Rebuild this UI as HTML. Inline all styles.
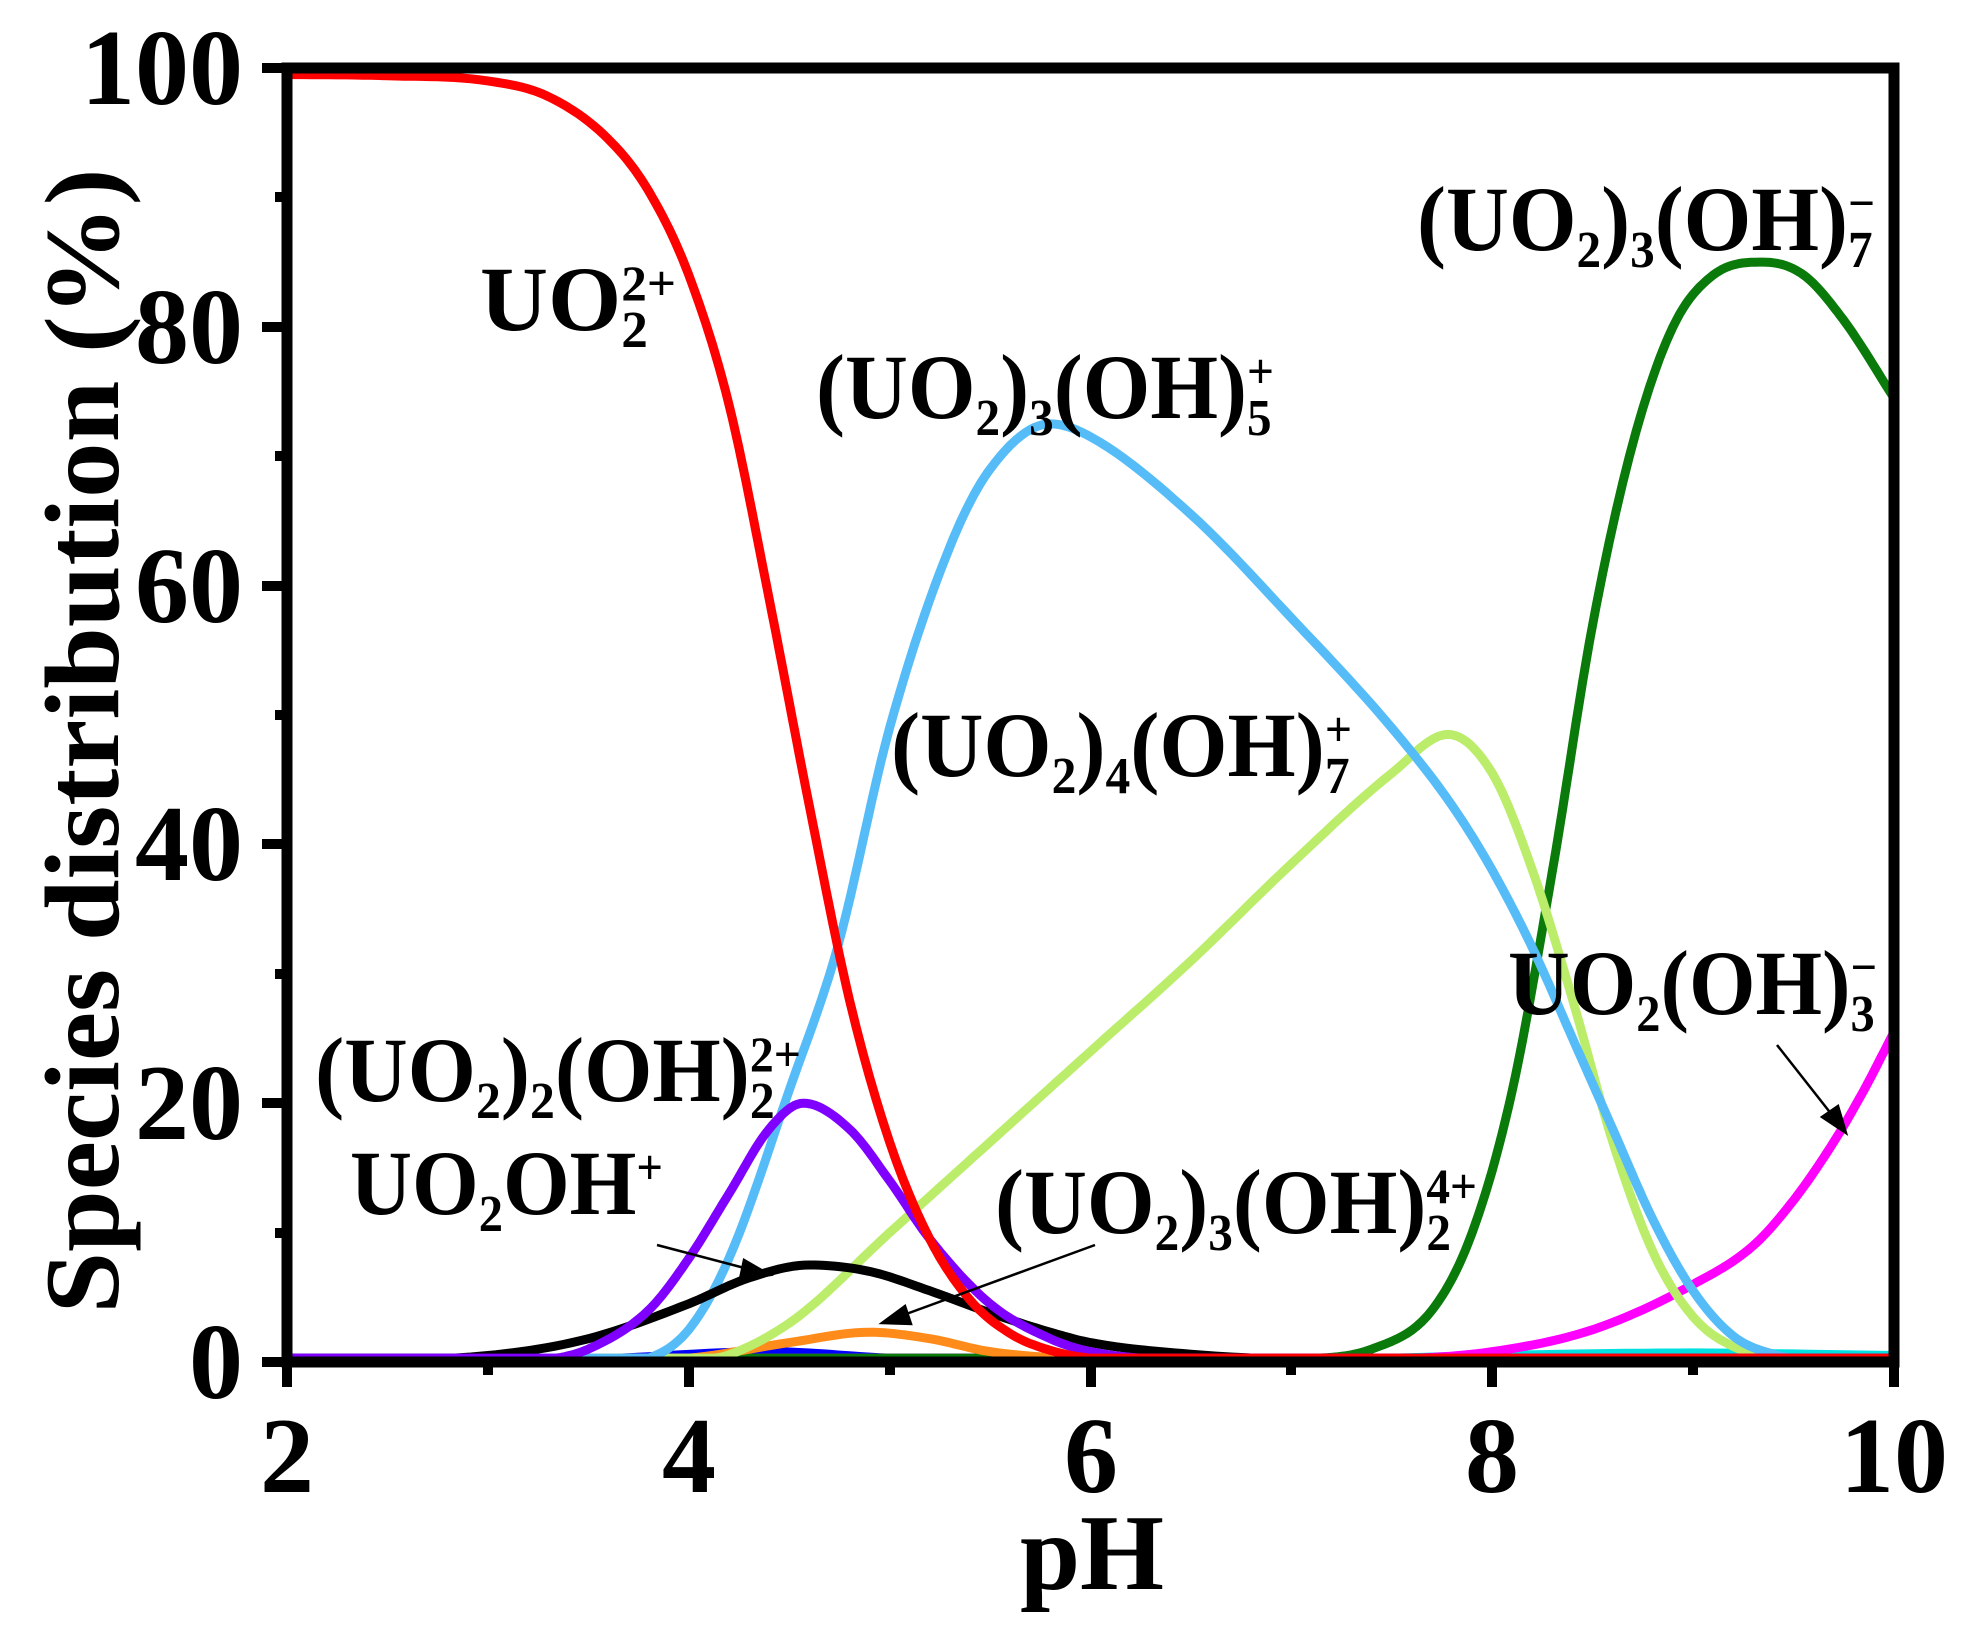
<!DOCTYPE html>
<html><head><meta charset="utf-8"><style>
html,body{margin:0;padding:0;background:#fff;}
svg{display:block;}
text{font-family:"Liberation Serif","Times New Roman",serif;font-weight:bold;fill:#000;}
</style></head><body>
<svg id="s" width="1962" height="1640" viewBox="0 0 1962 1640" xmlns="http://www.w3.org/2000/svg">
<g id="curves" fill="none" stroke-width="9" stroke-linejoin="round" stroke-linecap="round"></g>
<rect x="287" y="68" width="1607" height="1294" fill="none" stroke="#000" stroke-width="11"/>
<g stroke="#000" stroke-width="10">
<line x1="262" y1="1362" x2="287" y2="1362"/><line x1="262" y1="1103" x2="287" y2="1103"/>
<line x1="262" y1="844" x2="287" y2="844"/><line x1="262" y1="586" x2="287" y2="586"/>
<line x1="262" y1="327" x2="287" y2="327"/><line x1="262" y1="68" x2="287" y2="68"/>
<line x1="275" y1="1233" x2="287" y2="1233"/><line x1="275" y1="974" x2="287" y2="974"/>
<line x1="275" y1="715" x2="287" y2="715"/><line x1="275" y1="456" x2="287" y2="456"/>
<line x1="275" y1="197" x2="287" y2="197"/>
<line x1="287" y1="1362" x2="287" y2="1387"/><line x1="689" y1="1362" x2="689" y2="1387"/>
<line x1="1091" y1="1362" x2="1091" y2="1387"/><line x1="1492" y1="1362" x2="1492" y2="1387"/>
<line x1="1894" y1="1362" x2="1894" y2="1387"/>
<line x1="488" y1="1362" x2="488" y2="1375"/><line x1="890" y1="1362" x2="890" y2="1375"/>
<line x1="1291" y1="1362" x2="1291" y2="1375"/><line x1="1693" y1="1362" x2="1693" y2="1375"/>
</g>
<g font-size="108" text-anchor="end">
<text x="243" y="1398">0</text><text x="243" y="1139">20</text><text x="243" y="880">40</text>
<text x="243" y="622">60</text><text x="243" y="363">80</text><text x="243" y="104">100</text>
</g>
<g font-size="108" text-anchor="middle">
<text x="287" y="1492">2</text><text x="689" y="1492">4</text><text x="1091" y="1492">6</text>
<text x="1492" y="1492">8</text><text x="1894" y="1492">10</text>
<text x="1092" y="1589">pH</text>
</g>
<text font-size="106" text-anchor="middle" transform="translate(118,741) rotate(-90)" textLength="1145" lengthAdjust="spacingAndGlyphs">Species distribution (%)</text>

<g font-size="92">
<text x="480" y="330" textLength="196" lengthAdjust="spacingAndGlyphs">UO<tspan font-size="52" dy="17">2</tspan><tspan font-size="50" dx="-26" dy="-47">2+</tspan></text>
<text x="816" y="418" textLength="458" lengthAdjust="spacingAndGlyphs">(UO<tspan font-size="52" dy="17">2</tspan><tspan dy="-17">)</tspan><tspan font-size="52" dy="17">3</tspan><tspan dy="-17">(OH)</tspan><tspan font-size="52" dy="17">5</tspan><tspan font-size="50" dx="-26" dy="-47">+</tspan></text>
<text x="1417" y="250" textLength="458" lengthAdjust="spacingAndGlyphs">(UO<tspan font-size="52" dy="17">2</tspan><tspan dy="-17">)</tspan><tspan font-size="52" dy="17">3</tspan><tspan dy="-17">(OH)</tspan><tspan font-size="52" dy="17">7</tspan><tspan font-size="50" dx="-26" dy="-47">−</tspan></text>
<text x="891" y="776" textLength="461" lengthAdjust="spacingAndGlyphs">(UO<tspan font-size="52" dy="17">2</tspan><tspan dy="-17">)</tspan><tspan font-size="52" dy="17">4</tspan><tspan dy="-17">(OH)</tspan><tspan font-size="52" dy="17">7</tspan><tspan font-size="50" dx="-26" dy="-47">+</tspan></text>
<text x="1508" y="1014" textLength="369" lengthAdjust="spacingAndGlyphs">UO<tspan font-size="52" dy="17">2</tspan><tspan dy="-17">(OH)</tspan><tspan font-size="52" dy="17">3</tspan><tspan font-size="50" dx="-26" dy="-47">−</tspan></text>
<text x="315" y="1101" textLength="486" lengthAdjust="spacingAndGlyphs">(UO<tspan font-size="52" dy="17">2</tspan><tspan dy="-17">)</tspan><tspan font-size="52" dy="17">2</tspan><tspan dy="-17">(OH)</tspan><tspan font-size="52" dy="17">2</tspan><tspan font-size="50" dx="-26" dy="-47">2+</tspan></text>
<text x="350" y="1214" textLength="313" lengthAdjust="spacingAndGlyphs">UO<tspan font-size="52" dy="17">2</tspan><tspan dy="-17">OH</tspan><tspan font-size="50" dy="-30">+</tspan></text>
<text x="995" y="1233" textLength="482" lengthAdjust="spacingAndGlyphs">(UO<tspan font-size="52" dy="17">2</tspan><tspan dy="-17">)</tspan><tspan font-size="52" dy="17">3</tspan><tspan dy="-17">(OH)</tspan><tspan font-size="52" dy="17">2</tspan><tspan font-size="50" dx="-26" dy="-47">4+</tspan></text>
</g>
<g stroke="#000" stroke-width="2.5" fill="#000">
<line x1="657" y1="1245" x2="752" y2="1270"/><polygon points="770,1275 744,1260 740,1279"/>
<line x1="1095" y1="1245" x2="898" y2="1317"/><polygon points="882,1323 905,1306 911,1324"/>
<line x1="1777" y1="1045" x2="1836" y2="1120"/><polygon points="1846,1133 1822,1117 1838,1106"/>
</g>
</svg>
<script>
function X(p){return 287+(p-2)*200.875;}
function Y(v){return 1362-v*12.94;}
function interp(pts){
 var n=pts.length,xs=pts.map(p=>p[0]),ys=pts.map(p=>p[1]),m=[],d=[];
 for(var i=0;i<n-1;i++)d.push((ys[i+1]-ys[i])/(xs[i+1]-xs[i]));
 m[0]=d[0];m[n-1]=d[n-2];
 for(i=1;i<n-1;i++){m[i]=(d[i-1]*d[i]<=0)?0:(d[i-1]+d[i])/2;}
 var out=[];
 for(i=0;i<n-1;i++){var h=xs[i+1]-xs[i];
  for(var k=0;k<12;k++){var t=k/12,t2=t*t,t3=t2*t;
   var y=(2*t3-3*t2+1)*ys[i]+(t3-2*t2+t)*h*m[i]+(-2*t3+3*t2)*ys[i+1]+(t3-t2)*h*m[i+1];
   out.push([xs[i]+t*h,Math.max(0.3,y)]);}}
 out.push([xs[n-1],Math.max(0.3,ys[n-1])]);
 return out;
}
var series=[
["#00e0e0",[[2,0],[7,0.1],[8,0.5],[9,0.7],[10,0.5]]],
["#0000ff",[[2,0],[3.5,0.2],[4.4,0.8],[5,0.3],[6,0],[10,0]]],
["#ff00ff",[[2,0],[7,0],[7.5,0.2],[8,0.8],[8.5,2.5],[9,6],[9.3,9],[9.5,12.5],[9.7,17],[9.85,21],[10,25.5]]],
["#0a7a0a",[[2,0],[6.5,0],[7,0.2],[7.4,1],[7.7,4],[7.9,10],[8.1,21],[8.3,38],[8.5,57],[8.7,71],[8.9,80],[9.1,84],[9.35,85],[9.55,84],[9.75,80.5],[10,74.5]]],
["#ff8c1a",[[2,0],[4,0.3],[4.5,1.5],[4.9,2.3],[5.2,1.8],[5.5,0.8],[6,0.2],[10,0]]],
["#bbed6b",[[2,0],[4.1,0.1],[4.5,3],[5,10],[5.5,17],[6,24],[6.5,31],[7,38.5],[7.5,45.5],[7.78,48.5],[8,45.5],[8.2,38],[8.4,28],[8.6,17],[8.8,8.5],[9,3.5],[9.2,1.2],[9.5,0.2],[10,0]]],
["#55bcf8",[[2,0],[3.8,0.3],[4,2.5],[4.2,8],[4.5,21],[4.74,32],[5,49],[5.3,63],[5.5,69],[5.8,72.5],[6,71.5],[6.5,65.5],[7,57.5],[7.5,49],[7.8,43],[8,38],[8.2,32],[8.4,25],[8.6,18],[8.8,11],[9,5.5],[9.2,2],[9.4,0.6],[9.6,0.1],[10,0]]],
["#000000",[[2,0],[3,0.5],[3.5,1.8],[4,4.5],[4.3,6.5],[4.6,7.5],[4.9,7],[5.2,5.5],[5.5,3.8],[5.8,2.3],[6,1.5],[6.5,0.6],[7,0.2],[10,0]]],
["#7f00ff",[[2,0],[3.3,0.2],[3.5,1],[3.8,4],[4,8],[4.2,13],[4.4,18],[4.57,20],[4.8,18],[5,14],[5.2,9.5],[5.5,4.5],[5.8,1.8],[6,0.8],[6.5,0.1],[10,0]]],
["#ff0000",[[2,99.5],[2.5,99.4],[3,99],[3.3,97.8],[3.6,94.5],[3.8,90.5],[4,84],[4.2,74],[4.4,59],[4.6,43],[4.8,28],[5,17],[5.2,9.5],[5.4,4.8],[5.6,2.2],[5.8,0.9],[6,0.3],[10,0]]]
];
var g=document.getElementById('curves'),ns="http://www.w3.org/2000/svg";
series.forEach(function(s){
 var pts=interp(s[1]);
 var d=pts.map((p,i)=>(i?"L":"M")+X(p[0]).toFixed(1)+","+Y(p[1]).toFixed(1)).join("");
 var e=document.createElementNS(ns,"path");e.setAttribute("d",d);e.setAttribute("stroke",s[0]);g.appendChild(e);
});
</script>
</body></html>
